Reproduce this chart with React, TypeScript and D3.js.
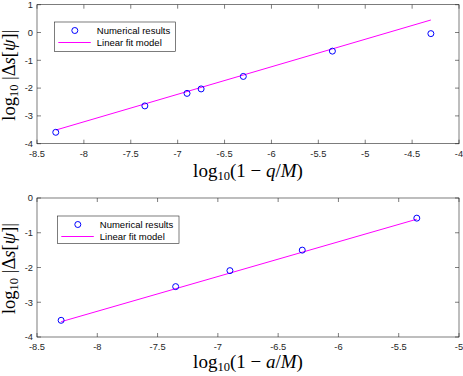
import React from "react";
import * as d3 from "d3";

// Top panel data
const topX = [-8.3, -7.35, -6.9, -6.75, -6.3, -5.35, -4.3];
const topY = [-3.59, -2.64, -2.19, -2.03, -1.58, -0.67, -0.04];
const topFitSlope = 0.99;
const topFitIntercept = 4.707;
const topXTicks = [-8.5, -8, -7.5, -7, -6.5, -6, -5.5, -5, -4.5, -4];
const topYTicks = [-4, -3, -2, -1, 0, 1];

// Bottom panel data
const botX = [-8.3, -7.35, -6.9, -6.3, -5.35];
const botY = [-3.52, -2.55, -2.09, -1.5, -0.58];
const botFitSlope = 1.0;
const botFitIntercept = 4.74;
const botXTicks = [-8.5, -8, -7.5, -7, -6.5, -6, -5.5, -5];
const botYTicks = [-4, -3, -2, -1, 0];

const legendLabels = ["Numerical results", "Linear fit model"];

const AXIS = "#262626";
const BLUE = "#0000ff";
const MAG = "#ff00ff";
const SANS = "'Liberation Sans', Arial, Helvetica, sans-serif";
const SERIF = "'Liberation Serif', 'Times New Roman', serif";

type PanelProps = {
  left: number; right: number; top: number; bottom: number;
  xDomain: [number, number]; yDomain: [number, number];
  xTicks: number[]; yTicks: number[];
  xs: number[]; ys: number[];
  slope: number; intercept: number;
  xVar: string;
  xLabelOffset: number;
  legend: { x: number; y: number; w: number; h: number };
};

function Panel(p: PanelProps) {
  const x = d3.scaleLinear().domain(p.xDomain).range([p.left, p.right]);
  const y = d3.scaleLinear().domain(p.yDomain).range([p.bottom, p.top]);
  const ext = d3.extent(p.xs) as [number, number];
  const fitPts: [number, number][] = ext.map((v) => [v, p.slope * v + p.intercept]);
  const line = d3.line<[number, number]>().x((d) => x(d[0])).y((d) => y(d[1]));
  const tl = 4;
  const fmt = (v: number) => String(v);
  const lg = p.legend;
  const cy = (p.top + p.bottom) / 2;
  const cx = (p.left + p.right) / 2;
  return (
    <g>
      <rect x={p.left} y={p.top} width={p.right - p.left} height={p.bottom - p.top} fill="#fff" stroke="none" />
      {/* fit line */}
      <path d={line(fitPts) || ""} fill="none" stroke={MAG} strokeWidth={1} />
      {p.xs.map((v, i) => (
        <circle key={i} cx={x(v)} cy={y(p.ys[i])} r={3} fill="none" stroke={BLUE} strokeWidth={1} />
      ))}
      {/* axes box */}
      <rect x={p.left} y={p.top} width={p.right - p.left} height={p.bottom - p.top} fill="none" stroke={AXIS} strokeWidth={0.6} />
      {p.xTicks.map((t) => (
        <g key={"x" + t}>
          <line x1={x(t)} x2={x(t)} y1={p.bottom} y2={p.bottom - tl} stroke={AXIS} strokeWidth={0.6} />
          <line x1={x(t)} x2={x(t)} y1={p.top} y2={p.top + tl} stroke={AXIS} strokeWidth={0.6} />
          <text x={x(t)} y={p.bottom + 13} textAnchor="middle" fontFamily={SANS} fontSize={9.3} fill={AXIS}>{fmt(t)}</text>
        </g>
      ))}
      {p.yTicks.map((t) => (
        <g key={"y" + t}>
          <line x1={p.left} x2={p.left + tl} y1={y(t)} y2={y(t)} stroke={AXIS} strokeWidth={0.6} />
          <line x1={p.right} x2={p.right - tl} y1={y(t)} y2={y(t)} stroke={AXIS} strokeWidth={0.6} />
          <text x={p.left - 4} y={y(t) + 3.3} textAnchor="end" fontFamily={SANS} fontSize={9.3} fill={AXIS}>{fmt(t)}</text>
        </g>
      ))}
      {/* x label */}
      <text x={cx} y={p.bottom + p.xLabelOffset} textAnchor="middle" fontFamily={SERIF} fontSize={19} fill="#000">
        <tspan>log</tspan>
        <tspan fontSize={12.5} dy={3}>10</tspan>
        <tspan dy={-3}>(1 − </tspan>
        <tspan fontStyle="italic">{p.xVar}</tspan>
        <tspan>/</tspan>
        <tspan fontStyle="italic">M</tspan>
        <tspan>)</tspan>
      </text>
      {/* y label */}
      <text transform={`translate(15,${cy + 1}) rotate(-90)`} textAnchor="middle" fontFamily={SERIF} fontSize={18.5} fill="#000">
        <tspan>log</tspan>
        <tspan fontSize={12.5} dy={3}>10</tspan>
        <tspan dy={-3}> |Δ</tspan>
        <tspan fontStyle="italic">s</tspan>
        <tspan>[</tspan>
        <tspan fontStyle="italic">ψ</tspan>
        <tspan>]|</tspan>
      </text>
      {/* legend */}
      <rect x={lg.x} y={lg.y} width={lg.w} height={lg.h} fill="#fff" stroke={AXIS} strokeWidth={0.6} />
      <circle cx={lg.x + 20.5} cy={lg.y + 8.5} r={3} fill="none" stroke={BLUE} strokeWidth={1} />
      <line x1={lg.x + 4} x2={lg.x + 36.5} y1={lg.y + 20.5} y2={lg.y + 20.5} stroke={MAG} strokeWidth={1} />
      <text x={lg.x + 42.5} y={lg.y + 12} fontFamily={SANS} fontSize={9.5} fill="#000">{legendLabels[0]}</text>
      <text x={lg.x + 42.5} y={lg.y + 24} fontFamily={SANS} fontSize={9.5} fill="#000">{legendLabels[1]}</text>
    </g>
  );
}

export default function App() {
  return (
    <svg width={463} height={376} style={{ position: "absolute", left: 0, top: 0, background: "#fff" }}>
      <rect width={463} height={376} fill="#fff" />
      <Panel
        left={37} right={459} top={4.7} bottom={143.7}
        xDomain={[-8.5, -4]} yDomain={[-4, 1]}
        xTicks={topXTicks} yTicks={topYTicks}
        xs={topX} ys={topY}
        slope={topFitSlope} intercept={topFitIntercept}
        xVar="q"
        xLabelOffset={33.5}
        legend={{ x: 54.3, y: 22, w: 121, h: 29.3 }}
      />
      <Panel
        left={37} right={459} top={198} bottom={337}
        xDomain={[-8.5, -5]} yDomain={[-4, 0]}
        xTicks={botXTicks} yTicks={botYTicks}
        xs={botX} ys={botY}
        slope={botFitSlope} intercept={botFitIntercept}
        xVar="a"
        xLabelOffset={31.3}
        legend={{ x: 57.3, y: 216, w: 121.7, h: 27.3 }}
      />
    </svg>
  );
}
